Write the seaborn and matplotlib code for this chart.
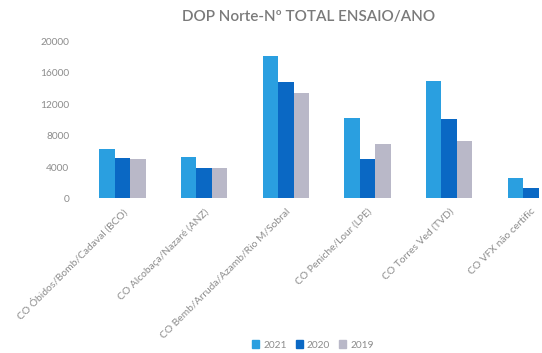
import matplotlib
matplotlib.use("Agg")
import matplotlib.pyplot as plt
import seaborn as sns
import pandas as pd

categories = [
    "CO Óbidos/Bomb/Cadaval (BCO)",
    "CO Alcobaça/Nazaré (ANZ)",
    "CO Bemb/Arruda/Azamb/Rio M/Sobral",
    "CO Peniche/Lour (LPE)",
    "CO Torres Ved (TVD)",
    "CO VFX não certific",
]
years = ["2021", "2020", "2019"]
v2021 = [6300, 5300, 18200, 10300, 15000, 2600]
v2020 = [5200, 3900, 14900, 5000, 10100, 1400]
v2019 = [5000, 3900, 13500, 6900, 7300, 0]
y_ticks = [0, 4000, 8000, 12000, 16000, 20000]

colors = ["#2A9FE0", "#0A68C4", "#B9B8C8"]
text_gray = "#8C8C8C"

rows = []
for year, vals in zip(years, [v2021, v2020, v2019]):
    for cat, v in zip(categories, vals):
        rows.append({"categoria": cat, "ano": year, "ensaios": v})
df = pd.DataFrame(rows)

sns.set_theme(style="white")
plt.rcParams["font.family"] = ["Lato", "DejaVu Sans"]

fig = plt.figure(figsize=(5.42, 3.53), dpi=100)
ax = fig.add_axes([0.1508, 0.4377, 0.904, 0.4447])

sns.barplot(data=df, x="categoria", y="ensaios", hue="ano", hue_order=years,
            palette=colors, width=0.57, saturation=1, linewidth=0,
            ax=ax, legend=False)

ax.set_ylim(0, 20000)
ax.set_yticks(y_ticks)
ax.set_yticklabels([str(t) for t in y_ticks], fontsize=7.3, color=text_gray)
ax.set_xlim(-0.5, len(categories) - 0.5)
ax.set_xticks(range(len(categories)))
ax.set_xticklabels(categories, rotation=45, ha="right", rotation_mode="anchor",
                   fontsize=7.4, color=text_gray)
ax.tick_params(axis="x", length=0, pad=6)
ax.tick_params(axis="y", length=0, pad=9)
ax.set_xlabel("")
ax.set_ylabel("")
for s in ax.spines.values():
    s.set_visible(False)

fig.text(309 / 542, 1 - 17 / 353, "DOP Norte-Nº TOTAL ENSAIO/ANO",
         ha="center", va="center", fontsize=11, color="#7A7A7A", weight="semibold")

handles = [plt.Rectangle((0, 0), 1, 1, color=c) for c in colors]
fig.legend(handles, years, loc="center", bbox_to_anchor=(313 / 542, 1 - 345 / 353),
           ncol=3, frameon=False, fontsize=7.3, labelcolor=text_gray,
           handlelength=0.7, handleheight=0.7, handletextpad=0.4, columnspacing=0.9)

fig.savefig("out.png", dpi=100, facecolor="white")
